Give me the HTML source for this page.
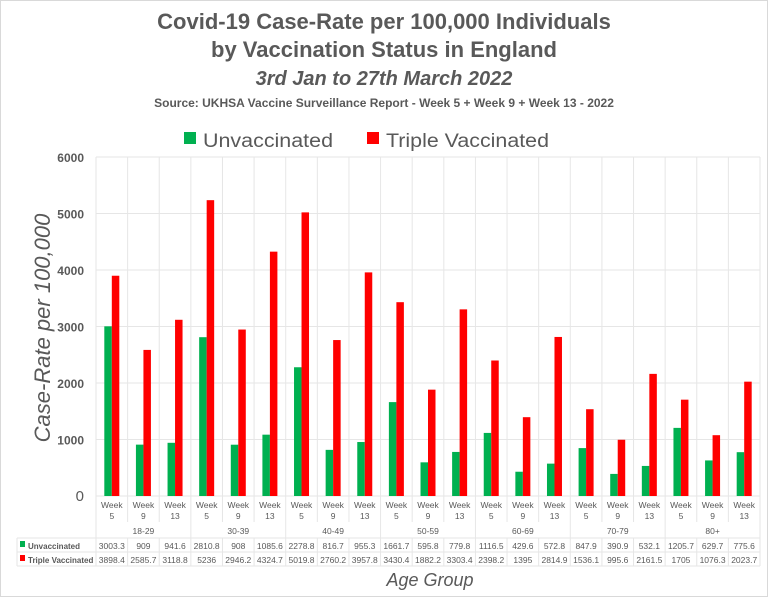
<!DOCTYPE html>
<html><head><meta charset="utf-8"><style>
body{margin:0;background:#fff}
svg{display:block;font-family:"Liberation Sans",sans-serif}
</style></head><body>
<svg id="s" width="768" height="597" viewBox="0 0 768 597" xmlns="http://www.w3.org/2000/svg">
<rect x="0.5" y="0.5" width="767" height="596" fill="#fff" stroke="#d9d9d9"/>
<text x="384" y="29" text-anchor="middle" font-size="22" font-weight="bold" fill="#595959">Covid-19 Case-Rate per 100,000 Individuals</text>
<text x="384" y="57" text-anchor="middle" font-size="22" font-weight="bold" fill="#595959">by Vaccination Status in England</text>
<text x="384" y="85" text-anchor="middle" font-size="20" font-weight="bold" font-style="italic" fill="#595959">3rd Jan to 27th March 2022</text>
<text x="384" y="107" text-anchor="middle" font-size="12" font-weight="bold" fill="#595959">Source: UKHSA Vaccine Surveillance Report - Week 5 + Week 9 + Week 13 - 2022</text>
<rect x="184" y="132" width="12" height="12" fill="#00b050"/>
<text x="203" y="147" font-size="19" fill="#595959" textLength="130" lengthAdjust="spacingAndGlyphs">Unvaccinated</text>
<rect x="367" y="132" width="12" height="12" fill="#ff0000"/>
<text x="386" y="147" font-size="19" fill="#595959" textLength="163" lengthAdjust="spacingAndGlyphs">Triple Vaccinated</text>
<text transform="translate(50,328) rotate(-90)" text-anchor="middle" font-size="22" font-style="italic" fill="#595959">Case-Rate per 100,000</text>
<text x="430" y="586" text-anchor="middle" font-size="18" font-style="italic" fill="#595959">Age Group</text>
<g id="g"></g>
</svg>
<script>
const U=[3003.3,909,941.6,2810.8,908,1085.6,2278.8,816.7,955.3,1661.7,595.8,779.8,1116.5,429.6,572.8,847.9,390.9,532.1,1205.7,629.7,775.6];
const T=[3898.4,2585.7,3118.8,5236,2946.2,4324.7,5019.8,2760.2,3957.8,3430.4,1882.2,3303.4,2398.2,1395,2814.9,1536.1,995.6,2161.5,1705,1076.3,2023.7];
const G=["18-29","30-39","40-49","50-59","60-69","70-79","80+"];
const W=["5","9","13"];
const x0=96,x1=760,cw=(x1-x0)/21,y0=496,sc=339/6000;
let h="";
const grid="#e6e6e6";
for(let i=0;i<=6;i++){let y=y0-i*1000*sc;h+=`<line x1="${x0}" x2="${x1}" y1="${y}" y2="${y}" stroke="${grid}"/>`;
h+=`<text x="84" y="${y+5}" text-anchor="end" font-size="${i==0?15:12}" font-weight="${i==0?'normal':'bold'}" fill="#595959">${i*1000}</text>`;}
for(let i=0;i<=21;i++){let x=x0+i*cw;let bot=(i%3==0)?566:522;h+=`<line x1="${x}" x2="${x}" y1="157" y2="${bot}" stroke="${grid}"/>`;
if(i%3!=0)h+=`<line x1="${x}" x2="${x}" y1="538" y2="566" stroke="${grid}"/>`;}
h+=`<line x1="17" x2="${x1}" y1="538" y2="538" stroke="${grid}"/><line x1="17" x2="${x1}" y1="552" y2="552" stroke="${grid}"/><line x1="17" x2="${x1}" y1="566" y2="566" stroke="${grid}"/><line x1="17" x2="17" y1="538" y2="566" stroke="${grid}"/>`;
for(let i=0;i<21;i++){let cx=x0+i*cw+cw/2;
let hu=U[i]*sc,ht=T[i]*sc;
h+=`<rect x="${cx-7.5}" y="${y0-hu}" width="7.5" height="${hu}" fill="#00b050"/>`;
h+=`<rect x="${cx}" y="${y0-ht}" width="7.5" height="${ht}" fill="#ff0000"/>`;
h+=`<text x="${cx}" y="508" text-anchor="middle" font-size="8.5" fill="#595959">Week</text>`;
h+=`<text x="${cx}" y="519" text-anchor="middle" font-size="8.5" fill="#595959">${W[i%3]}</text>`;
h+=`<text x="${cx}" y="549" text-anchor="middle" font-size="8.5" fill="#595959">${U[i]}</text>`;
h+=`<text x="${cx}" y="563" text-anchor="middle" font-size="8.5" fill="#595959">${T[i]}</text>`;}
for(let g=0;g<7;g++){h+=`<text x="${x0+(g*3+1.5)*cw}" y="534" text-anchor="middle" font-size="8.5" fill="#595959">${G[g]}</text>`;}
h+=`<rect x="20" y="541" width="5" height="6" fill="#00b050"/><text x="28" y="549" font-size="8" font-weight="bold" fill="#595959">Unvaccinated</text>`;
h+=`<rect x="20" y="555" width="5" height="6" fill="#ff0000"/><text x="28" y="563" font-size="8" font-weight="bold" fill="#595959">Triple Vaccinated</text>`;
document.getElementById("g").innerHTML=h;
</script>
</body></html>
